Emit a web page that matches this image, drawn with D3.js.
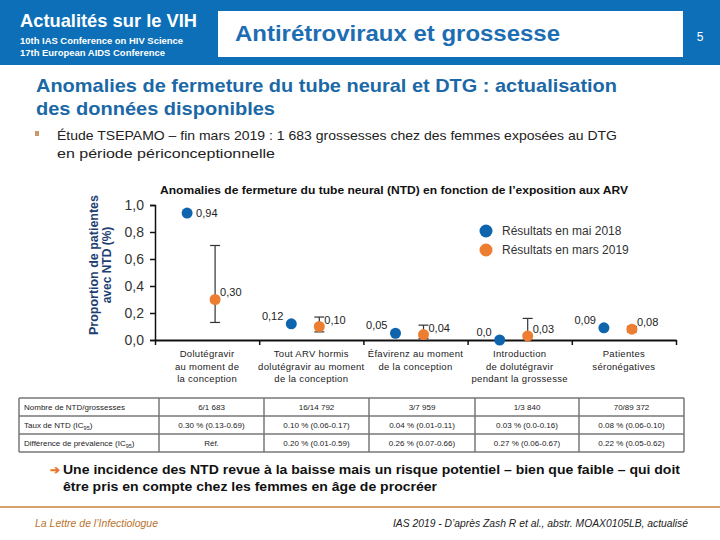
<!DOCTYPE html>
<html><head><meta charset="utf-8">
<script src="https://cdn.jsdelivr.net/npm/d3@7"></script>
<style>body{margin:0;background:#fff}svg{display:block;font-family:"Liberation Sans",Arial,sans-serif}</style>
</head><body><svg id="c" width="720" height="540"></svg>
<script>
// ---- data ----
const categories = [
  ["Dolutégravir","au moment de","la conception"],
  ["Tout ARV hormis","dolutégravir au moment","de la conception"],
  ["Éfavirenz au moment","de la conception"],
  ["Introduction","de dolutégravir","pendant la grossesse"],
  ["Patientes","séronégatives"]
];
const seriesNames = ["Résultats en mai 2018","Résultats en mars 2019"];
const may2018 = [0.94, 0.12, 0.05, 0.0, 0.09];
const mar2019 = [0.30, 0.10, 0.04, 0.03, 0.08];
const mar2019Low = [0.13, 0.06, 0.01, 0.00, 0.06];
const mar2019High = [0.70, 0.17, 0.11, 0.16, 0.10];
const yTicks = [0, 0.2, 0.4, 0.6, 0.8, 1.0];
const tableRowLabels = ["Nombre de NTD/grossesses","Taux de NTD (IC","Différence de prévalence (IC"];
const tableCounts = ["6/1 683","16/14 792","3/7 959","1/3 840","70/89 372"];
const tableRates = ["0.30 % (0.13-0.69)","0.10 % (0.06-0.17)","0.04 % (0.01-0.11)","0.03 % (0.0-0.16)","0.08 % (0.06-0.10)"];
const tableDiffs = ["Réf.","0.20 % (0.01-0.59)","0.26 % (0.07-0.66)","0.27 % (0.06-0.67)","0.22 % (0.05-0.62)"];

const colBlue = "#0E65AE", colOrange = "#ED7D31";
const svg = d3.select("#c");
const loc = d3.formatLocale({decimal:",",thousands:" ",grouping:[3],currency:["","€"]});
const f1 = loc.format(".1f"), f2 = loc.format(".2f");
const lab = v => v === 0 ? "0,0" : f2(v);

// ---- header ----
svg.append("rect").attr("x",0).attr("y",0).attr("width",720).attr("height",65).attr("fill","#0C6FB7");
svg.append("text").attr("x",20).attr("y",27).attr("fill","#fff").attr("font-weight","bold").attr("font-size",19)
  .attr("textLength",177).attr("lengthAdjust","spacingAndGlyphs").text("Actualités sur le VIH");
svg.append("text").attr("x",20).attr("y",44).attr("fill","#fff").attr("font-weight","bold").attr("font-size",9)
  .attr("textLength",163).attr("lengthAdjust","spacingAndGlyphs").text("10th IAS Conference on HIV Science");
svg.append("text").attr("x",20).attr("y",56).attr("fill","#fff").attr("font-weight","bold").attr("font-size",9)
  .attr("textLength",145).attr("lengthAdjust","spacingAndGlyphs").text("17th European AIDS Conference");
svg.append("rect").attr("x",218).attr("y",11).attr("width",465).attr("height",46).attr("fill","#fff");
svg.append("text").attr("x",235).attr("y",41).attr("fill","#1D6DB3").attr("font-weight","bold").attr("font-size",22)
  .attr("textLength",325).attr("lengthAdjust","spacingAndGlyphs").text("Antirétroviraux et grossesse");
svg.append("text").attr("x",700).attr("y",41).attr("fill","#fff").attr("font-size",12).attr("text-anchor","middle").text("5");

// ---- subtitle & bullet ----
svg.append("text").attr("x",36).attr("y",92).attr("fill","#1B68A6").attr("font-weight","bold").attr("font-size",19)
  .attr("textLength",581).attr("lengthAdjust","spacingAndGlyphs").text("Anomalies de fermeture du tube neural et DTG : actualisation");
svg.append("text").attr("x",36).attr("y",115).attr("fill","#1B68A6").attr("font-weight","bold").attr("font-size",19)
  .attr("textLength",239).attr("lengthAdjust","spacingAndGlyphs").text("des données disponibles");
svg.append("rect").attr("x",35).attr("y",131).attr("width",4).attr("height",5).attr("fill","#C99A6B");
svg.append("text").attr("x",57).attr("y",140).attr("fill","#222").attr("font-size",13)
  .attr("textLength",560).attr("lengthAdjust","spacingAndGlyphs").text("Étude TSEPAMO – fin mars 2019 : 1 683 grossesses chez des femmes exposées au DTG");
svg.append("text").attr("x",57).attr("y",158).attr("fill","#222").attr("font-size",13)
  .attr("textLength",218).attr("lengthAdjust","spacingAndGlyphs").text("en période périconceptionnelle");

// ---- chart ----
const x0 = 155, x1 = 676, yTop = 205, yBot = 340;
const x = d3.scaleBand().domain(d3.range(categories.length)).range([x0,x1]).padding(0);
const y = d3.scaleLinear().domain([0,1]).range([yBot,yTop]);

svg.append("text").attr("x",160).attr("y",194).attr("fill","#111").attr("font-weight","bold").attr("font-size",11)
  .attr("textLength",468).attr("lengthAdjust","spacingAndGlyphs")
  .text("Anomalies de fermeture du tube neural (NTD) en fonction de l’exposition aux ARV");

const yt = svg.append("text").attr("transform","translate(98,265) rotate(-90)").attr("text-anchor","middle")
  .attr("fill","#1F3F73").attr("font-weight","bold").attr("font-size",12);
yt.append("tspan").attr("x",0).attr("dy",0).attr("textLength",140).attr("lengthAdjust","spacingAndGlyphs").text("Proportion de patientes");
yt.append("tspan").attr("x",0).attr("dy",13).text("avec NTD (%)");

const gy = svg.append("g").attr("transform",`translate(${x0},0)`)
  .call(d3.axisLeft(y).tickValues(yTicks).tickFormat(f1).tickSize(5).tickPadding(6));
gy.select(".domain").attr("stroke","#111").attr("stroke-width",1.5);
gy.selectAll(".tick line").attr("stroke","#111").attr("stroke-width",1.5);
gy.selectAll(".tick text").attr("font-size",14).attr("fill","#333").attr("font-family","Liberation Sans, Arial");

const gx = svg.append("g").attr("transform",`translate(0,${yBot})`)
  .call(d3.axisBottom(d3.scaleLinear().domain([0,categories.length]).range([x0,x1]))
    .tickValues(d3.range(categories.length+1)).tickFormat("").tickSize(5).tickSizeOuter(0));
gx.select(".domain").attr("stroke","#111").attr("stroke-width",2);
gx.selectAll(".tick line").attr("stroke","#111").attr("stroke-width",1.5);

// category labels
categories.forEach((lines,i) => {
  const t = svg.append("text").attr("x",x(i)+x.bandwidth()/2).attr("y",357).attr("text-anchor","middle")
    .attr("font-size",9.5).attr("fill","#222").attr("letter-spacing",0.3);
  lines.forEach((l,j) => t.append("tspan").attr("x",x(i)+x.bandwidth()/2).attr("dy",j?12.5:0).text(l));
});

const offB = -20, offO = 8;
// error bars
const eb = svg.append("g").attr("stroke","#333").attr("stroke-width",1.2);
mar2019.forEach((v,i) => {
  const cx = x(i)+x.bandwidth()/2+offO;
  eb.append("line").attr("x1",cx).attr("x2",cx).attr("y1",y(mar2019Low[i])).attr("y2",y(mar2019High[i]));
  [mar2019Low[i],mar2019High[i]].forEach(b => eb.append("line").attr("x1",cx-5).attr("x2",cx+5).attr("y1",y(b)).attr("y2",y(b)));
});
// points
svg.append("g").selectAll("circle").data(may2018).join("circle")
  .attr("cx",(d,i)=>x(i)+x.bandwidth()/2+offB).attr("cy",d=>y(d)).attr("r",5.5).attr("fill",colBlue);
svg.append("g").selectAll("circle").data(mar2019).join("circle")
  .attr("cx",(d,i)=>x(i)+x.bandwidth()/2+offO).attr("cy",d=>y(d)).attr("r",5.5).attr("fill",colOrange);
// value labels
svg.append("g").selectAll("text").data(may2018).join("text")
  .attr("x",(d,i)=>x(i)+x.bandwidth()/2+offB+(i===0?9:-8))
  .attr("y",(d,i)=>y(d)+(i===0?4:-4))
  .attr("text-anchor",(d,i)=>i===0?"start":"end")
  .attr("font-size",11).attr("fill","#222").text(lab);
svg.append("g").selectAll("text").data(mar2019).join("text")
  .attr("x",(d,i)=>x(i)+x.bandwidth()/2+offO+5)
  .attr("y",(d,i)=>y(d)-(i===0?4:3))
  .attr("font-size",11).attr("fill","#222").text(lab);

// legend
const lg = svg.append("g");
[colBlue,colOrange].forEach((c,i) => {
  lg.append("circle").attr("cx",486).attr("cy",231+i*19).attr("r",6.5).attr("fill",c);
  lg.append("text").attr("x",502).attr("y",235+i*19).attr("font-size",12).attr("fill","#333").text(seriesNames[i]);
});

// ---- table ----
const colX = [19,159,264,369,475,579,684], rowY = [398,416,434,452];
const tb = svg.append("g");
const rows = [tableCounts, tableRates, tableDiffs];
rows.forEach((r,ri) => {
  const ty = rowY[ri]+12;
  const lt = tb.append("text").attr("x",24).attr("y",ty).attr("font-size",8).attr("fill","#222").text(tableRowLabels[ri]);
  if (ri>0) { lt.append("tspan").attr("font-size",5.5).attr("dy",2).text("95"); lt.append("tspan").attr("dy",-2).text(")"); }
  r.forEach((v,ci) => tb.append("text").attr("x",(colX[ci+1]+colX[ci+2])/2).attr("y",ty).attr("text-anchor","middle")
    .attr("font-size",8).attr("fill","#222").text(v));
});
rowY.forEach(yy => tb.append("line").attr("x1",colX[0]).attr("x2",colX[6]).attr("y1",yy).attr("y2",yy).attr("stroke","#777").attr("stroke-width",1.5));
colX.forEach(xx => tb.append("line").attr("x1",xx).attr("x2",xx).attr("y1",rowY[0]).attr("y2",rowY[3]).attr("stroke","#777").attr("stroke-width",1.5));

// ---- conclusion ----
svg.append("text").attr("x",50).attr("y",474).attr("fill","#E8772E").attr("font-weight","bold").attr("font-size",12).text("➔");
svg.append("text").attr("x",63).attr("y",474).attr("fill","#111").attr("font-weight","bold").attr("font-size",13)
  .attr("textLength",617).attr("lengthAdjust","spacingAndGlyphs")
  .text("Une incidence des NTD revue à la baisse mais un risque potentiel – bien que faible – qui doit");
svg.append("text").attr("x",63).attr("y",491).attr("fill","#111").attr("font-weight","bold").attr("font-size",13)
  .attr("textLength",374).attr("lengthAdjust","spacingAndGlyphs")
  .text("être pris en compte chez les femmes en âge de procréer");
svg.append("line").attr("x1",0).attr("x2",720).attr("y1",507).attr("y2",507).attr("stroke","#C8823F").attr("stroke-width",1.5);

// ---- footer ----
svg.append("text").attr("x",35).attr("y",527).attr("fill","#B8742E").attr("font-style","italic").attr("font-size",10)
  .attr("textLength",123).attr("lengthAdjust","spacingAndGlyphs").text("La Lettre de l’Infectiologue");
svg.append("text").attr("x",393).attr("y",527).attr("fill","#222").attr("font-style","italic").attr("font-size",10)
  .attr("textLength",295).attr("lengthAdjust","spacingAndGlyphs").text("IAS 2019 - D’après Zash R et al., abstr. MOAX0105LB, actualisé");
</script></body></html>
